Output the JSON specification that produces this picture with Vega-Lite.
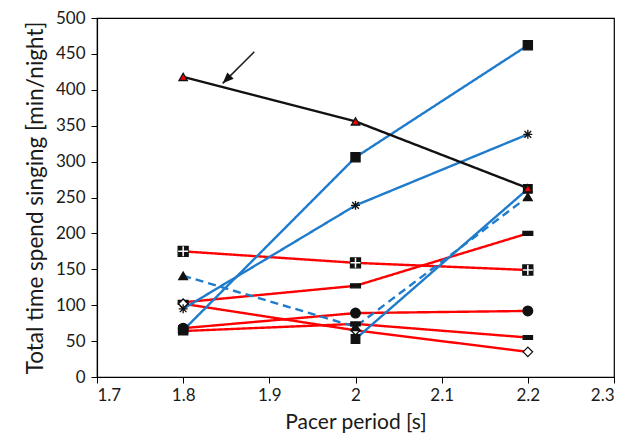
{
  "$schema": "https://vega.github.io/schema/vega-lite/v6.json",
  "autosize": {"type": "none"},
  "padding": {"left": 97, "top": 18, "right": 19, "bottom": 67},
  "width": 517,
  "height": 359,
  "background": "white",
  "config": {
    "view": {"stroke": "black", "strokeWidth": 1.2},
    "font": "Lato",
    "axis": {"grid": false, "domainColor": "black", "tickColor": "black", "labelColor": "#1a1a1a", "titleColor": "#1a1a1a", "labelFont": "Lato", "titleFont": "Lato", "titleFontWeight": "normal", "labelFontSize": 17, "titleFontSize": 21, "tickSize": 6, "domainWidth": 1.2, "labelOverlap": false}
  },
  "datasets": {
    "pts": [
      {"series": "RedSqCross", "x": 1.8, "y": 175},
      {"series": "RedSqCross", "x": 2.0, "y": 159},
      {"series": "RedSqCross", "x": 2.2, "y": 149},
      {"series": "RedDash1", "x": 1.8, "y": 104},
      {"series": "RedDash1", "x": 2.0, "y": 127},
      {"series": "RedDash1", "x": 2.2, "y": 200},
      {"series": "RedCircle", "x": 1.8, "y": 68},
      {"series": "RedCircle", "x": 2.0, "y": 89},
      {"series": "RedCircle", "x": 2.2, "y": 92},
      {"series": "RedDiamond", "x": 1.8, "y": 102},
      {"series": "RedDiamond", "x": 2.0, "y": 65},
      {"series": "RedDiamond", "x": 2.2, "y": 35},
      {"series": "RedDash2", "x": 1.8, "y": 64},
      {"series": "RedDash2", "x": 2.0, "y": 74},
      {"series": "RedDash2", "x": 2.2, "y": 55},
      {"series": "BlueSq", "x": 1.8, "y": 65},
      {"series": "BlueSq", "x": 2.0, "y": 306},
      {"series": "BlueSq", "x": 2.2, "y": 462},
      {"series": "BlueStar", "x": 1.8, "y": 95},
      {"series": "BlueStar", "x": 2.0, "y": 239},
      {"series": "BlueStar", "x": 2.2, "y": 338},
      {"series": "BlueDashTri", "x": 1.8, "y": 141},
      {"series": "BlueDashTri", "x": 2.0, "y": 70},
      {"series": "BlueDashTri", "x": 2.2, "y": 251},
      {"series": "BlueSq2", "x": 2.0, "y": 53},
      {"series": "BlueSq2", "x": 2.2, "y": 262},
      {"series": "Black", "x": 1.8, "y": 418},
      {"series": "Black", "x": 2.0, "y": 356},
      {"series": "Black", "x": 2.2, "y": 263}
    ],
    "arrow": [
      {"x": 1.8826, "y": 453, "x2": 1.8459, "y2": 409}
    ]
  },
  "encoding": {
    "x": {"field": "x", "type": "quantitative", "scale": {"domain": [1.7, 2.3], "nice": false}, "axis": {"values": [1.7, 1.8, 1.9, 2.0, 2.1, 2.2, 2.3], "format": "~g", "title": "Pacer period [s]", "titlePadding": 8, "labelPadding": 4, "labelOverlap": false}},
    "y": {"field": "y", "type": "quantitative", "scale": {"domain": [0, 500], "nice": false}, "axis": {"values": [0, 50, 100, 150, 200, 250, 300, 350, 400, 450, 500], "title": "Total time spend singing [min/night]", "titleFontSize": 22.5, "titlePadding": 8, "labelPadding": 6, "labelOverlap": false}}
  },
  "layer": [
    {
      "data": {"name": "pts"},
      "mark": {"type": "line", "strokeWidth": 2.4},
      "encoding": {
        "detail": {"field": "series"},
        "color": {"field": "series", "type": "nominal", "legend": null, "scale": {
          "domain": ["RedSqCross", "RedDash1", "RedCircle", "RedDiamond", "RedDash2", "BlueSq", "BlueStar", "BlueDashTri", "BlueSq2", "Black"],
          "range": ["#ff0000", "#ff0000", "#ff0000", "#ff0000", "#ff0000", "#1f7bcc", "#1f7bcc", "#1f7bcc", "#1f7bcc", "#111111"]}},
        "strokeDash": {"field": "series", "type": "nominal", "legend": null, "scale": {
          "domain": ["RedSqCross", "RedDash1", "RedCircle", "RedDiamond", "RedDash2", "BlueSq", "BlueStar", "BlueDashTri", "BlueSq2", "Black"],
          "range": [[1, 0], [1, 0], [1, 0], [1, 0], [1, 0], [1, 0], [1, 0], [8, 5], [1, 0], [1, 0]]}},
        "order": {"field": "x", "type": "quantitative"}
      }
    },
    {
      "data": {"name": "pts"},
      "mark": {"type": "point", "filled": true, "opacity": 1, "strokeWidth": 1.3},
      "encoding": {
        "shape": {"field": "series", "type": "nominal", "legend": null, "scale": {
          "domain": ["RedSqCross", "RedDash1", "RedCircle", "RedDiamond", "RedDash2", "BlueSq", "BlueStar", "BlueDashTri", "BlueSq2", "Black"],
          "range": ["square", "M-1,-0.4L1,-0.4L1,0.4L-1,0.4Z", "circle", "diamond", "M-1,-0.4L1,-0.4L1,0.4L-1,0.4Z", "square", "M-1,0L1,0M0,-1L0,1M-0.75,-0.75L0.75,0.75M-0.75,0.75L0.75,-0.75", "triangle-up", "square", "triangle-up"]}},
        "size": {"field": "series", "type": "nominal", "legend": null, "scale": {
          "domain": ["RedSqCross", "RedDash1", "RedCircle", "RedDiamond", "RedDash2", "BlueSq", "BlueStar", "BlueDashTri", "BlueSq2", "Black"],
          "range": [100, 70, 120, 75, 90, 110, 130, 100, 110, 150]}},
        "fill": {"field": "series", "type": "nominal", "legend": null, "scale": {
          "domain": ["RedSqCross", "RedDash1", "RedCircle", "RedDiamond", "RedDash2", "BlueSq", "BlueStar", "BlueDashTri", "BlueSq2", "Black"],
          "range": ["#111111", "#111111", "#111111", "#ffffff", "#111111", "#111111", "#111111", "#111111", "#111111", "#ee0000"]}},
        "stroke": {"value": "#111111"}
      }
    },
    {
      "data": {"name": "pts"},
      "transform": [{"filter": "datum.series === 'RedSqCross'"}],
      "mark": {"type": "point", "filled": false, "shape": "M-1,0L1,0M0,-1L0,1", "size": 100, "stroke": "white", "strokeWidth": 1.5, "opacity": 1},
      "encoding": {}
    },
    {
      "data": {"name": "arrow"},
      "mark": {"type": "rule", "color": "#222", "strokeWidth": 1.6},
      "encoding": {
        "x2": {"field": "x2"},
        "y2": {"field": "y2"}
      }
    },
    {
      "data": {"name": "arrow"},
      "mark": {"type": "point", "filled": true, "shape": "M0,0L-0.45,1.1L0.45,1.1Z", "size": 400, "angle": 225, "color": "#111", "opacity": 1},
      "encoding": {
        "x": {"field": "x2", "type": "quantitative"},
        "y": {"field": "y2", "type": "quantitative"}
      }
    }
  ]
}
